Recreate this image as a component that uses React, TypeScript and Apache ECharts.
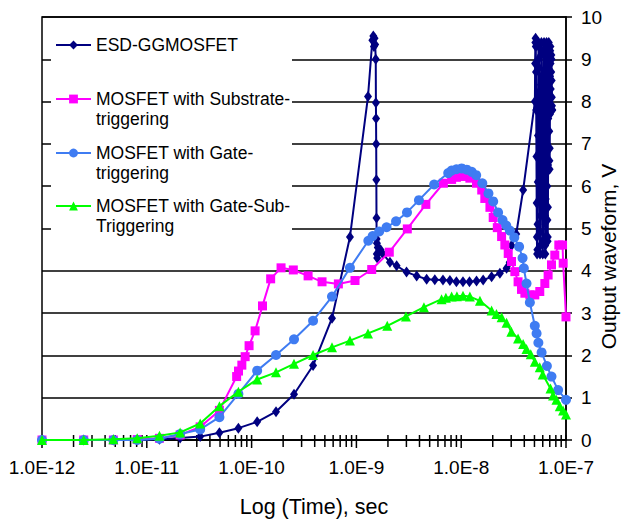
import React, { useEffect, useRef } from "react";
import * as echarts from "echarts";

// ---------- DATA (time in seconds, output in volts) ----------
const esdName = "ESD-GGMOSFET";
const subName = "MOSFET with Substrate-triggering";
const gateName = "MOSFET with Gate-triggering";
const gsName = "MOSFET with Gate-Sub-Triggering";

const esdTime = [
  1e-12, 2.5e-12, 4.8e-12, 8.1e-12, 1.32e-11, 2.08e-11, 3.23e-11, 4.93e-11, 7.48e-11, 1.13e-10,
  1.71e-10, 2.54e-10, 3.86e-10, 5.85e-10, 8.68e-10, 1.29e-9, 1.42e-9, 1.45e-9, 1.47e-9, 1.49e-9,
  1.51e-9, 1.53e-9, 1.535e-9, 1.54e-9, 1.545e-9, 1.55e-9, 1.555e-9, 1.56e-9, 1.565e-9, 1.57e-9,
  1.58e-9, 1.6e-9, 1.64e-9, 1.7e-9, 1.79e-9, 2.09e-9, 2.42e-9, 3.01e-9, 3.76e-9, 4.68e-9,
  5.6e-9, 6.7e-9, 7.8e-9, 9.0e-9, 1.04e-8, 1.2e-8, 1.4e-8, 1.62e-8, 1.95e-8, 2.34e-8,
  2.71e-8, 2.9e-8, 3.02e-8, 3.35e-8, 3.9e-8,
  5.05e-8, 5.075e-8, 5.1e-8, 5.125e-8, 5.15e-8, 5.175e-8, 5.2e-8, 5.225e-8, 5.25e-8, 5.275e-8,
  5.3e-8, 5.325e-8, 5.35e-8, 5.375e-8, 5.4e-8, 5.425e-8, 5.45e-8, 5.475e-8, 5.5e-8, 5.525e-8,
  5.55e-8, 5.575e-8, 5.6e-8, 5.625e-8, 5.65e-8, 5.675e-8, 5.7e-8, 5.725e-8, 5.75e-8, 5.775e-8,
  5.8e-8, 5.825e-8, 5.85e-8, 5.875e-8, 5.9e-8, 5.925e-8, 5.95e-8, 5.975e-8, 6.0e-8, 6.025e-8,
  6.05e-8, 6.075e-8, 6.1e-8, 6.125e-8, 6.15e-8, 6.175e-8, 6.2e-8, 6.225e-8, 6.25e-8, 6.275e-8,
  6.3e-8, 6.325e-8, 6.35e-8, 6.375e-8, 6.4e-8, 6.425e-8, 6.45e-8, 6.475e-8, 6.5e-8, 6.525e-8,
  6.55e-8, 6.575e-8, 6.6e-8, 6.625e-8, 6.65e-8, 6.675e-8, 6.7e-8, 6.725e-8, 6.75e-8, 6.775e-8,
  6.8e-8, 6.825e-8, 6.85e-8, 6.875e-8, 6.9e-8, 6.925e-8, 6.95e-8, 6.975e-8, 7.0e-8, 7.025e-8,
  7.05e-8, 7.075e-8, 7.1e-8, 7.125e-8, 7.15e-8, 7.175e-8, 7.2e-8, 7.225e-8, 7.25e-8, 7.275e-8,
  7.3e-8, 7.325e-8, 7.35e-8, 7.375e-8, 7.4e-8,
];
const esdVolt = [
  0, 0, 0, 0, 0.02, 0.05, 0.08, 0.17, 0.28, 0.43,
  0.67, 1.08, 1.76, 2.88, 4.8, 8.12, 9.45, 9.55, 9.3, 9.5,
  9.35, 9.0, 7.97, 7.6, 7.0, 6.15, 5.25, 4.75, 4.4, 4.65,
  4.3, 4.55, 4.45, 4.5, 4.4, 4.2, 4.12, 3.97, 3.88, 3.8,
  3.79, 3.78, 3.77, 3.74, 3.74, 3.74, 3.76, 3.78, 3.86, 3.94,
  4.06, 4.2, 4.6, 4.87, 5.91,
  8.0, 8.9, 9.4, 9.5, 9.3, 8.7, 7.8, 6.7, 5.6, 4.8,
  4.4, 4.5, 5.1, 6.1, 7.2, 8.2, 9.0, 9.4, 9.3, 8.8,
  7.9, 6.8, 5.7, 4.9, 4.4, 4.6, 5.3, 6.3, 7.4, 8.4,
  9.1, 9.4, 9.2, 8.6, 7.6, 6.5, 5.5, 4.7, 4.4, 4.7,
  5.5, 6.6, 7.7, 8.6, 9.2, 9.4, 9.1, 8.4, 7.4, 6.3,
  5.3, 4.6, 4.4, 4.8, 5.7, 6.8, 7.9, 8.8, 9.3, 9.4,
  8.9, 8.1, 7.0, 6.0, 5.2, 4.7, 4.8, 5.5, 6.5, 7.6,
  8.5, 9.2, 9.4, 9.0, 8.2, 7.3, 6.6, 6.4, 6.9, 7.7,
  8.6, 9.2, 9.3, 8.9, 8.3, 7.9, 8.1, 8.7, 9.1, 9.0,
  8.5, 8.1, 7.9, 7.8, 7.8,
];

const subTime = [
  1e-12, 2.5e-12, 4.8e-12, 8.1e-12, 1.32e-11, 2.08e-11, 3.23e-11, 4.93e-11, 7.2e-11, 7.5e-11,
  8.07e-11, 8.68e-11, 9.46e-11, 1.08e-10, 1.27e-10, 1.52e-10, 1.91e-10, 2.5e-10, 3.46e-10, 4.7e-10,
  6.73e-10, 9.7e-10, 1.4e-9, 2.06e-9, 3.06e-9, 4.6e-9, 6.76e-9, 8.1e-9, 9.0e-9, 1.04e-8,
  1.21e-8, 1.4e-8, 1.57e-8, 1.68e-8, 1.88e-8, 2.02e-8, 2.21e-8, 2.43e-8, 2.61e-8, 2.81e-8,
  3.02e-8, 3.25e-8, 3.49e-8, 3.76e-8, 4.05e-8, 4.52e-8, 5.04e-8, 5.62e-8, 6.28e-8, 6.75e-8,
  7.27e-8, 7.82e-8, 8.54e-8, 9.27e-8, 9.4e-8, 1e-7,
];
const subVolt = [
  0, 0, 0, 0.01, 0.04, 0.12, 0.31, 0.7, 1.5, 1.63,
  1.77, 1.97, 2.23, 2.58, 3.17, 3.81, 4.07, 4.02, 3.88, 3.74,
  3.69, 3.77, 4.03, 4.44, 4.99, 5.57, 6.07, 6.16, 6.21, 6.23,
  6.19, 6.07, 5.91, 5.71, 5.5, 5.26, 5.02, 4.81, 4.61, 4.41,
  4.22, 3.98, 3.74, 3.56, 3.47, 3.43, 3.43, 3.51, 3.7, 3.9,
  4.14, 4.37, 4.61, 4.61, 4.18, 2.91,
];

const gateTime = [
  1e-12, 2.5e-12, 4.8e-12, 8.1e-12, 1.32e-11, 2.08e-11, 3.23e-11, 4.93e-11, 7.48e-11, 1.13e-10,
  1.71e-10, 2.54e-10, 3.86e-10, 5.85e-10, 8.68e-10, 1.3e-9, 1.43e-9, 1.65e-9, 1.94e-9, 2.39e-9,
  3.04e-9, 3.95e-9, 5.52e-9, 7.52e-9, 8.1e-9, 9.0e-9, 1.01e-8, 1.13e-8, 1.26e-8, 1.39e-8,
  1.59e-8, 1.82e-8, 2.02e-8, 2.25e-8, 2.48e-8, 2.69e-8, 2.91e-8, 3.21e-8, 3.57e-8, 3.85e-8,
  3.96e-8, 4.2e-8, 4.52e-8, 5.04e-8, 5.24e-8, 5.45e-8, 5.85e-8, 6.57e-8, 7.27e-8, 8.41e-8,
  1e-7,
];
const gateVolt = [
  0, 0, 0, 0, 0.03, 0.14, 0.25, 0.54, 1.09, 1.64,
  2.01, 2.38, 2.82, 3.39, 4.07, 4.71, 4.82, 4.93, 5.03, 5.17,
  5.38, 5.67, 6.04, 6.31, 6.37, 6.4, 6.42, 6.39, 6.34, 6.26,
  6.07, 5.83, 5.64, 5.38, 5.2, 5.07, 4.95, 4.79, 4.57, 4.3,
  4.06, 3.7, 3.25, 2.7, 2.52, 2.3, 2.07, 1.75, 1.5, 1.18,
  0.95,
];

const gsTime = [
  1e-12, 2.5e-12, 4.8e-12, 8.1e-12, 1.32e-11, 2.08e-11, 3.23e-11, 4.93e-11, 7.48e-11, 1.13e-10,
  1.71e-10, 2.54e-10, 3.86e-10, 5.85e-10, 8.68e-10, 1.29e-9, 1.97e-9, 2.97e-9, 4.41e-9, 6.5e-9,
  7.14e-9, 8.1e-9, 9.1e-9, 1.04e-8, 1.21e-8, 1.51e-8, 1.95e-8, 2.17e-8, 2.43e-8, 2.71e-8,
  3.01e-8, 3.49e-8, 3.9e-8, 4.2e-8, 4.61e-8, 5.04e-8, 5.62e-8, 6.0e-8, 7.11e-8, 7.53e-8,
  8.11e-8, 8.73e-8, 9.38e-8, 1e-7,
];
const gsVolt = [
  0, 0, 0.02, 0.04, 0.1, 0.18, 0.39, 0.8, 1.14, 1.43,
  1.6, 1.8, 2.01, 2.19, 2.35, 2.52, 2.7, 2.92, 3.14, 3.33,
  3.36, 3.39, 3.4, 3.41, 3.39, 3.29, 3.06, 2.98, 2.9, 2.77,
  2.56, 2.4, 2.27, 2.15, 2.03, 1.85, 1.72, 1.55, 1.22, 1.05,
  0.95, 0.8, 0.7, 0.6,
];

// x-axis tick positions (decades and minor 2..9 multiples)
const decadeTicks = [1e-12, 1e-11, 1e-10, 1e-9, 1e-8, 1e-7];
const minorMultipliers = [2, 3, 4, 5, 6, 7, 8, 9];
const yTicks = [0, 1, 2, 3, 4, 5, 6, 7, 8, 9, 10];

const FONT = "'Liberation Sans', Arial, Helvetica, sans-serif";

function pairs(t: number[], v: number[]) {
  return t.map((x, i) => [x, v[i]]);
}

export default function App() {
  const ref = useRef<HTMLDivElement>(null);
  useEffect(() => {
    if (!ref.current) return;
    const chart = echarts.init(ref.current, undefined, { renderer: "svg" });

    const tickData: number[][] = [];
    decadeTicks.forEach((d, i) => {
      tickData.push([d, 0, 1]);
      if (i < decadeTicks.length - 1) minorMultipliers.forEach((m) => tickData.push([d * m, 0, 0]));
    });

    const lineSeries = (name: string, data: number[][], color: string, symbol: string, size: any, z: number) => ({
      type: "line",
      name,
      data,
      symbol,
      symbolSize: size,
      showAllSymbol: true,
      color,
      itemStyle: { color },
      lineStyle: { color, width: 2 },
      z,
      clip: false,
    });

    // two-line entries get a leading empty line so the icon sits beside the first line
    const legendItem = (name: string, label: string, top: number) => ({
      data: [name],
      orient: "vertical",
      left: 55,
      top,
      padding: 0,
      itemWidth: 35,
      itemHeight: 11,
      z: 6,
      formatter: () => label,
      textStyle: {
        fontFamily: FONT,
        fontSize: 17.5,
        color: "#000",
        lineHeight: 20,
      },
    });

    chart.setOption({
      animation: false,
      backgroundColor: "#fff",
      grid: {
        left: 42,
        right: 55,
        top: 17,
        bottom: 80,
        show: true,
        borderColor: "#000",
        borderWidth: 1.5,
        backgroundColor: "transparent",
        outerBoundsMode: "none",
        containLabel: false,
      },
      legend: [
        legendItem(esdName, "ESD-GGMOSFET", 35),
        legendItem(subName, "\nMOSFET with Substrate-\ntriggering", 69),
        legendItem(gateName, "\nMOSFET with Gate-\ntriggering", 123),
        legendItem(gsName, "\nMOSFET with Gate-Sub-\nTriggering", 176),
      ],
      graphic: [
        {
          type: "rect",
          z: 5,
          silent: true,
          shape: { x: 51, y: 20, width: 241, height: 216 },
          style: { fill: "#fff" },
        },
      ],
      xAxis: {
        type: "log",
        logBase: 10,
        min: 1e-12,
        max: 1e-7,
        name: "Log (Time), sec",
        nameLocation: "middle",
        nameGap: 56,
        nameMoveOverlap: false,
        nameTextStyle: { fontFamily: FONT, fontSize: 21.5, color: "#000", padding: [0, 0, 0, 20] },
        axisLine: { show: true, lineStyle: { color: "#000", width: 1.5 } },
        axisTick: { show: false },
        splitLine: { show: false },
        axisLabel: {
          margin: 18,
          fontFamily: FONT,
          fontSize: 19,
          color: "#000",
          formatter: (v: number) => v.toExponential(1).toUpperCase(),
        },
      },
      yAxis: {
        type: "value",
        position: "right",
        min: 0,
        max: 10,
        interval: 1,
        name: "Output waveform, V",
        nameLocation: "middle",
        nameGap: 32,
        nameMoveOverlap: false,
        nameTextStyle: { fontFamily: FONT, fontSize: 21, color: "#000", padding: [0, 56, 0, 0] },
        axisLine: { show: true, lineStyle: { color: "#000", width: 1.5 } },
        axisTick: { show: true, inside: false, length: 6, lineStyle: { color: "#000", width: 1.5 } },
        splitLine: { show: true, lineStyle: { color: "#000", width: 1.5 } },
        axisLabel: {
          margin: 15,
          fontFamily: FONT,
          fontSize: 19,
          color: "#000",
          customValues: yTicks,
        },
      },
      series: [
        lineSeries(esdName, pairs(esdTime, esdVolt), "#000080", "diamond", [8, 11], 2),
        lineSeries(subName, pairs(subTime, subVolt), "#ff00ff", "rect", 9, 3),
        lineSeries(gateName, pairs(gateTime, gateVolt), "#3f7cf2", "circle", 10, 4),
        lineSeries(gsName, pairs(gsTime, gsVolt), "#00ff00", "triangle", 10, 5),
        {
          type: "custom",
          name: "ticks",
          silent: true,
          clip: false,
          data: tickData,
          encode: { x: 0, y: 1 },
          z: 1,
          renderItem: (params: any, api: any) => {
            const p = api.coord([api.value(0), 0]);
            const major = api.value(2) === 1;
            return {
              type: "line",
              shape: { x1: p[0], y1: p[1] - 5, x2: p[0], y2: p[1] + (major ? 8 : 7) },
              style: { stroke: "#000", lineWidth: 1.5 },
            };
          },
        },
      ],
    });
    return () => chart.dispose();
  }, []);
  return (
    <div
      ref={ref}
      style={{ position: "absolute", left: 0, top: 0, width: 621, height: 520, background: "#fff" }}
    />
  );
}
